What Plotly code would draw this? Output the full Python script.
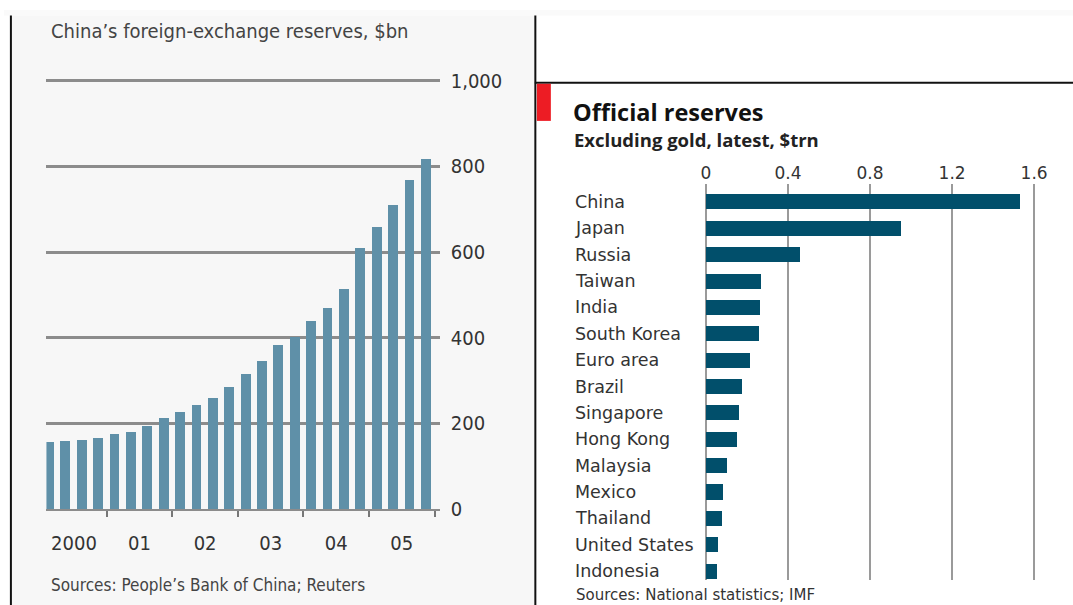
import plotly.graph_objects as go

# layout positions below are written on a 1073x605 design grid and mapped
# to figure pixels by gx/gy
W, H = 1082, 621
SX, OX = 0.989, 4.6
SY, OY = 0.962, 9.4

# --- China's foreign-exchange reserves, quarterly, $bn ---
quarters = [f"{y}Q{q}" for y in range(2000, 2006) for q in range(1, 5)]
reserves_bn = [157, 159, 161, 166, 176, 180, 195, 212,
               227, 243, 259, 286, 316, 347, 384, 403,
               440, 471, 515, 610, 659, 711, 769, 819]
year_labels = ["2000", "01", "02", "03", "04", "05"]
left_yticks = [0, 200, 400, 600, 800, 1000]

# --- Official reserves excluding gold, $trn ---
countries = ["China", "Japan", "Russia", "Taiwan", "India", "South Korea",
             "Euro area", "Brazil", "Singapore", "Hong Kong", "Malaysia",
             "Mexico", "Thailand", "United States", "Indonesia"]
reserves_trn = [1.53, 0.95, 0.46, 0.27, 0.265, 0.257, 0.215, 0.177,
                0.16, 0.152, 0.101, 0.081, 0.08, 0.059, 0.052]
right_xticks = [0, 0.4, 0.8, 1.2, 1.6]


def gx(x):
    return (x - OX) / SX


def gy(y):
    return (y - OY) / SY


def px(x):
    return gx(x) / W


def py(y):
    return 1 - gy(y) / H


COND = "Liberation Sans Narrow, DejaVu Sans Condensed, Roboto, sans-serif"
SANS = "DejaVu Sans, Verdana, sans-serif"
BOLD = "Open Sans, DejaVu Sans, sans-serif"

fig = go.Figure()

x_idx = list(range(len(quarters)))
fig.add_trace(go.Bar(
    x=x_idx, y=reserves_bn, width=0.6,
    marker=dict(color="#5f90a8", line=dict(width=0)),
    xaxis="x", yaxis="y", hoverinfo="skip",
))

fig.add_trace(go.Bar(
    x=reserves_trn, y=list(range(len(countries))), orientation="h", width=0.57,
    marker=dict(color="#014f6b", line=dict(width=0)),
    xaxis="x2", yaxis="y2", hoverinfo="skip",
))

year_centres = [4 * i + 1.5 for i in range(len(year_labels))]
year_bounds = [4 * i + 3.5 for i in range(len(year_labels))]

fig.update_layout(
    width=W, height=H,
    margin=dict(l=0, r=0, t=0, b=0),
    paper_bgcolor="#ffffff",
    plot_bgcolor="rgba(0,0,0,0)",
    showlegend=False,
    bargap=0,
    xaxis=dict(
        domain=[px(47), px(440)], range=[-0.18, 23.82],
        tickvals=year_centres, ticktext=year_labels, ticks="",
        showgrid=False, zeroline=False,
        showline=True, linecolor="#8c8c8c", linewidth=2,
        tickfont=dict(family=COND, size=20, color="#333333"),
        ticklabelstandoff=15,
        minor=dict(tickvals=year_bounds, ticks="outside", ticklen=6,
                   tickwidth=1.5, tickcolor="#777777", showgrid=False),
        fixedrange=True,
    ),
    yaxis=dict(
        domain=[py(507), py(77.9)], range=[0, 1005], side="right",
        tickvals=left_yticks, tickformat=",", ticks="",
        showgrid=True, gridcolor="#8c8c8c", gridwidth=2.5, zeroline=False,
        tickfont=dict(family=COND, size=20, color="#333333"),
        ticklabelstandoff=10,
        fixedrange=True,
    ),
    xaxis2=dict(
        domain=[px(705), px(1040)], range=[-0.005, 1.63], side="top",
        anchor="y2",
        tickvals=right_xticks, ticktext=[f"{v:g}" for v in right_xticks],
        ticks="", showgrid=True, gridcolor="#9a9a9a", gridwidth=2,
        zeroline=False, showline=False,
        tickfont=dict(family=SANS, size=17, color="#333333"),
        ticklabelstandoff=1,
        fixedrange=True,
    ),
    yaxis2=dict(
        domain=[py(578), py(183)], range=[14.34, -0.68], anchor="x2",
        showticklabels=False, ticks="", showgrid=False, zeroline=False,
        fixedrange=True,
    ),
)

shapes = [
    # faint top strip
    dict(type="rect", xref="paper", yref="paper", x0=0, x1=1, y0=py(15), y1=1,
         fillcolor="#fafafa", line=dict(width=0), layer="below"),
    # left panel background
    dict(type="rect", xref="paper", yref="paper", x0=px(12), x1=px(535),
         y0=0, y1=py(15), fillcolor="#f7f7f7", line=dict(width=0), layer="below"),
    # panel borders
    dict(type="line", xref="paper", yref="paper", x0=px(11.5), x1=px(11.5),
         y0=0, y1=py(15), line=dict(color="#111111", width=2)),
    dict(type="line", xref="paper", yref="paper", x0=px(535.5), x1=px(535.5),
         y0=0, y1=py(15), line=dict(color="#111111", width=2)),
    dict(type="line", xref="paper", yref="paper", x0=px(535), x1=1,
         y0=py(82), y1=py(82), line=dict(color="#111111", width=2)),
    # red tag
    dict(type="rect", xref="paper", yref="paper", x0=px(537), x1=px(551),
         y0=py(120), y1=py(83), fillcolor="#ed1c24", line=dict(width=0)),
]
fig.update_layout(shapes=shapes)

annotations = [
    dict(text="China’s foreign-exchange reserves, $bn", x=px(50), y=py(30),
         xanchor="left", yanchor="middle",
         font=dict(family=COND, size=20, color="#444444")),
    dict(text="Sources: People’s Bank of China; Reuters", x=px(50), y=py(583),
         xanchor="left", yanchor="middle",
         font=dict(family=COND, size=17, color="#444444")),
    dict(text="<b>Official reserves</b>", x=px(571), y=py(111),
         xanchor="left", yanchor="middle",
         font=dict(family=BOLD, size=23.5, color="#111111")),
    dict(text="<b>Excluding gold, latest, $trn</b>", x=px(572), y=py(139),
         xanchor="left", yanchor="middle",
         font=dict(family=BOLD, size=18.5, color="#222222")),
    dict(text="Sources: National statistics; IMF", x=px(574), y=py(593),
         xanchor="left", yanchor="middle",
         font=dict(family=SANS, size=15, color="#333333")),
]
for a in annotations:
    a.update(xref="paper", yref="paper", showarrow=False)

# country names, left-aligned beside each bar
for i, name in enumerate(countries):
    annotations.append(dict(
        text=name, x=px(573), y=i, xref="paper", yref="y2",
        xanchor="left", yanchor="middle", showarrow=False,
        font=dict(family=SANS, size=17.5, color="#333333"),
    ))

fig.update_layout(annotations=annotations)

fig.write_html("out.html")
